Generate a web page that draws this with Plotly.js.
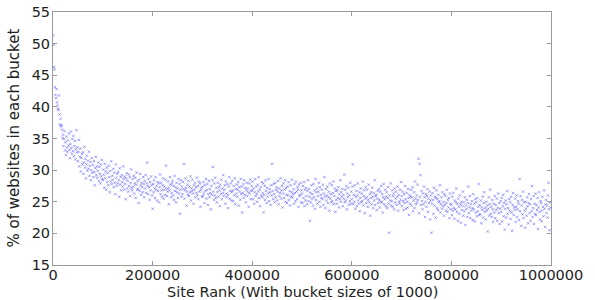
<!DOCTYPE html>
<html>
<head>
<meta charset="utf-8">
<script src="https://cdn.plot.ly/plotly-3.0.1.min.js"></script>
<style>html,body{margin:0;padding:0;background:#fff;}#chart{width:595px;height:300px;}</style>
</head>
<body>
<div id="chart"></div>
<script>
// Percentage of websites in each bucket of 1000 ranks (bucket 0 = ranks 0-999, ...)
const bucketSize = 1000;
const pct000 = [51.3,49.8,46.3,45.9,43.1,41.9,41.4,42.8,40.7,40.2,
39.7,39.5,41.8,38.8,37.2,38.1,36.9,37.1,36.4,35.1,
35.6,33.8,34.9,36.2,33.1,34.4,32.4,35.3,33.6,32.9,
34.7,33.9,35.8,33.2,31.9,34.1,36.1,33.5,32.6,34.9,
33.0,35.4,32.2,33.8,34.6,31.7,33.3,36.3,32.8,33.6,
31.4,32.9,34.8,30.6,32.1,33.4,29.8,31.9,32.6,30.9,
32.8,29.4,31.2,33.7,30.4,31.8,28.7,30.9,32.3,29.9,
31.5,30.2,32.9,29.1,30.7,31.3,28.4,30.0,31.9,29.6,
30.8,28.9,31.4,29.7,27.6,30.3,32.1,29.2,30.6,28.8,
29.9,31.2,28.3,30.5,29.4,27.9,30.9,29.0,31.6,28.6];
const pct100 = [28.4,30.1,29.3,27.2,31.0,28.7,29.8,26.9,30.4,28.1,
29.5,27.6,30.7,28.9,26.5,29.9,28.2,31.4,27.8,29.1,
28.5,30.2,27.3,29.6,28.0,26.2,30.9,28.8,27.5,29.4,
27.9,29.7,28.4,25.8,30.3,27.7,28.9,26.8,29.2,28.1,
27.4,30.6,28.6,26.9,29.0,27.8,25.4,28.7,29.5,27.1,
28.3,26.6,29.3,27.5,28.9,25.9,28.0,30.1,27.2,26.8,
28.6,27.4,29.1,26.3,27.9,28.8,25.6,27.7,29.6,26.9,
28.2,27.0,24.8,28.5,26.7,29.4,27.6,26.1,28.0,27.3,
26.5,28.9,27.8,25.7,28.3,27.1,29.2,26.4,27.9,31.2,
27.5,26.2,28.6,27.3,25.3,28.1,26.8,29.0,27.6,26.0];
const pct200 = [23.9,27.8,26.5,28.4,27.1,25.6,28.9,26.9,27.5,25.2,
28.1,26.7,27.9,24.9,27.3,29.3,26.2,28.0,26.8,25.8,
27.6,28.7,25.5,26.9,27.4,26.1,28.5,30.7,27.0,25.9,
26.6,28.2,27.2,24.6,26.8,28.9,27.7,25.7,26.4,27.9,
28.3,26.0,27.5,25.3,29.1,26.7,27.3,24.9,28.0,26.5,
27.1,25.6,28.6,26.3,27.8,23.1,26.9,28.4,25.8,27.4,
26.2,28.1,27.0,31.0,25.5,26.8,28.7,27.2,24.4,26.6,
27.7,26.1,28.3,25.9,27.4,26.5,29.0,25.2,27.1,26.7,
28.5,26.3,24.7,27.6,26.9,28.0,25.7,27.3,26.4,28.8,
26.0,27.5,25.4,28.2,26.6,27.9,24.2,26.8,27.2,25.8];
const pct300 = [27.4,25.9,28.1,26.3,24.8,27.6,26.7,28.6,25.5,26.9,
27.8,24.5,26.2,28.3,25.7,27.0,26.4,23.8,27.5,26.1,
28.4,30.5,26.6,25.3,27.9,26.0,28.8,25.6,27.2,24.9,
26.5,28.0,25.8,27.3,26.8,24.3,27.7,26.2,28.5,25.4,
27.1,26.4,29.2,25.9,26.9,27.6,24.7,28.2,26.3,25.7,
27.8,26.1,24.0,27.4,28.9,25.5,26.7,27.9,25.2,26.5,
28.3,26.8,25.1,27.5,26.0,28.7,24.6,27.0,26.3,27.7,
25.8,26.9,28.1,24.4,27.3,26.6,25.3,28.6,26.2,27.4,
23.3,26.4,27.8,25.6,28.4,26.1,27.2,24.9,26.8,28.0,
25.9,27.1,26.5,24.2,27.9,26.3,28.5,25.4,26.7,27.5];
const pct400 = [26.8,28.2,25.4,27.1,24.7,26.5,28.6,25.9,27.4,26.2,
25.0,27.7,26.6,28.9,25.6,26.9,24.3,27.3,26.0,28.1,
25.7,26.4,27.9,23.3,26.1,27.5,25.3,28.4,26.7,24.8,
27.2,25.8,26.3,28.6,25.1,27.0,26.5,24.5,27.6,26.0,
31.0,26.7,25.4,27.8,26.2,24.9,28.0,25.7,26.9,27.3,
25.2,26.6,28.3,24.6,27.1,25.9,26.4,28.7,25.5,26.8,
27.5,24.1,26.3,27.9,25.6,26.9,28.4,25.0,27.2,26.1,
24.8,27.4,26.0,28.1,25.3,26.7,24.4,27.6,25.8,26.5,
28.5,25.7,26.2,27.0,24.7,27.8,26.4,25.1,28.2,26.6,
25.4,27.3,26.9,24.2,27.7,25.9,26.1,28.0,24.9,26.8];
const pct500 = [26.3,24.8,27.5,25.6,28.1,24.3,26.9,25.2,27.2,25.9,
24.6,26.7,28.4,25.1,27.0,25.8,22.0,26.4,24.9,27.6,
25.5,26.2,24.4,27.8,25.7,26.8,23.9,28.6,25.3,26.5,
27.1,24.7,25.9,26.6,28.0,25.0,27.3,24.2,26.1,25.6,
26.9,25.4,27.7,24.5,26.3,28.9,25.8,24.0,27.0,25.2,
26.0,27.4,24.8,25.7,26.6,23.6,27.9,25.5,26.2,24.9,
27.6,25.1,26.4,28.2,24.6,25.9,27.1,23.4,26.7,25.3,
24.7,26.8,25.6,27.3,24.1,26.2,25.4,28.4,25.0,26.5,
25.8,27.0,24.3,26.1,25.5,29.3,24.9,26.9,25.2,27.5,
23.8,26.3,25.7,27.2,24.5,26.0,25.1,28.0,24.7,26.6];
const pct600 = [25.4,27.4,30.9,24.6,26.1,25.0,27.6,23.9,25.8,26.7,
24.3,26.0,27.9,25.2,24.7,26.5,23.5,25.6,27.1,24.9,
26.3,25.1,28.2,24.4,25.9,26.8,23.2,25.5,27.3,24.8,
25.7,26.9,24.2,25.3,27.7,24.9,26.2,22.8,25.6,26.5,
24.6,27.2,25.8,24.0,26.4,25.2,28.4,24.5,25.9,26.1,
23.7,25.5,26.7,24.8,27.0,25.3,24.1,26.6,25.0,27.5,
24.9,26.2,23.3,25.7,27.8,24.6,25.4,26.9,24.3,25.8,
26.5,24.0,25.6,27.3,24.7,20.1,26.0,25.2,27.9,24.4,
25.1,26.8,24.2,25.9,26.3,23.8,27.1,24.9,25.5,26.6,
24.5,25.8,27.4,23.6,26.1,25.0,24.7,26.9,25.3,28.1];
const pct700 = [25.9,24.3,26.6,25.1,23.7,26.2,24.8,27.5,25.4,23.9,
26.4,25.0,24.1,27.0,25.6,22.9,26.1,24.7,25.8,26.9,
24.4,25.7,27.3,23.5,25.2,26.5,24.0,28.2,25.5,24.6,
26.0,24.9,27.7,25.3,31.8,23.2,31.0,25.8,29.2,24.5,
26.7,25.1,23.8,26.3,24.6,27.4,25.7,22.6,25.0,26.2,
24.2,25.9,27.0,23.4,25.5,24.8,26.6,22.2,25.2,26.0,
20.1,24.7,26.4,25.3,23.1,27.2,24.4,25.8,22.5,25.6,
26.8,24.0,25.4,23.7,26.1,24.9,25.1,27.6,23.3,24.6,
25.7,23.9,26.5,24.3,25.0,22.8,26.2,24.5,25.9,23.6,
24.8,26.9,23.4,25.3,24.1,25.6,22.4,26.3,24.7,23.8];
const pct800 = [24.5,22.9,25.8,23.6,26.4,24.0,22.3,25.2,23.8,24.9,
27.1,23.4,24.7,22.0,25.5,24.2,23.1,26.0,24.6,21.7,
25.0,23.7,24.3,26.6,22.8,24.9,23.5,25.7,21.3,24.4,
23.9,25.3,22.6,24.8,27.4,23.2,24.1,25.9,22.4,24.6,
23.6,25.1,24.0,22.1,26.2,23.8,24.7,21.9,25.4,23.3,
24.9,22.7,25.6,23.5,24.2,27.8,22.9,24.5,23.0,25.2,
21.6,24.1,23.7,25.8,22.5,24.8,26.5,23.4,24.0,22.2,
25.0,23.6,24.4,20.3,23.9,25.7,22.8,24.6,26.9,23.1,
24.2,22.6,25.3,23.8,21.8,24.7,23.3,25.9,22.4,24.5,
23.7,25.5,22.0,24.0,26.3,23.2,24.8,21.5,23.9,25.1];
const pct900 = [23.4,25.6,21.9,24.3,26.1,22.7,24.8,20.6,23.9,25.2,
22.5,24.6,26.7,23.1,24.0,21.4,25.4,23.6,24.9,22.3,
25.8,23.3,20.4,24.5,26.4,22.9,24.1,23.7,25.5,21.8,
24.2,26.0,22.6,23.8,25.1,24.7,22.1,28.6,23.5,25.9,
21.2,24.4,25.3,23.0,26.6,22.4,24.9,23.6,20.9,25.0,
23.9,22.8,25.7,24.3,21.6,24.8,26.2,23.2,24.6,22.0,
25.4,23.5,27.5,22.6,24.0,25.9,21.5,24.7,23.1,26.3,
22.9,24.5,23.7,25.6,20.7,24.1,26.5,23.4,22.2,25.1,
24.8,21.9,23.6,25.8,24.2,22.7,26.8,23.9,21.0,24.6,
25.3,23.2,24.4,22.5,26.0,28.0,23.8,20.5,24.9,24.1];

const xTickVals = [0, 200000, 400000, 600000, 800000, 1000000];
const xTickText = ['0', '200000', '400000', '600000', '800000', '1000000'];
const yTickVals = [15, 20, 25, 30, 35, 40, 45, 50, 55];
const xTitle = 'Site Rank (With bucket sizes of 1000)';
const yTitle = '% of websites in each bucket';

const yValues = [].concat(pct000, pct100, pct200, pct300, pct400,
  pct500, pct600, pct700, pct800, pct900);

const trace = {
  type: 'scatter',
  mode: 'markers',
  x0: 0,
  dx: bucketSize,
  y: yValues,
  marker: {symbol: 'x-thin-open', size: 2.5, color: 'rgba(40,40,255,0.45)', line: {width: 0.9, color: 'rgba(40,40,255,0.45)'}},
  hoverinfo: 'skip'
};

const fam = 'DejaVu Sans, sans-serif';
const axisCommon = {
  showline: true, linecolor: '#9a9a9a', linewidth: 1, mirror: 'ticks',
  ticks: 'inside', ticklen: 4, tickcolor: '#9a9a9a', tickwidth: 1,
  showgrid: false, zeroline: false, tickfont: {family: fam, size: 14.5, color: '#222'}
};

const layout = {
  width: 595, height: 300,
  margin: {l: 53, r: 44, t: 12, b: 35, pad: 0},
  paper_bgcolor: '#fff', plot_bgcolor: '#fff',
  font: {family: fam, size: 14, color: '#222'},
  showlegend: false,
  xaxis: Object.assign({}, axisCommon, {
    range: [0, 1000000], tickmode: 'array', tickvals: xTickVals, ticktext: xTickText,
    ticklabelstandoff: -3
  }),
  yaxis: Object.assign({}, axisCommon, {
    range: [15, 55], tickmode: 'array', tickvals: yTickVals,
    ticklabelstandoff: -1
  }),
  annotations: [
    {text: xTitle, xref: 'paper', yref: 'paper', x: 0.5, y: -0.107, xanchor: 'center', yanchor: 'middle',
     showarrow: false, font: {family: fam, size: 14.5, color: '#222'}},
    {text: yTitle, xref: 'paper', yref: 'paper', x: -0.0803, y: 0.5, xanchor: 'center', yanchor: 'middle',
     textangle: -90, showarrow: false, font: {family: fam, size: 15, color: '#222'}}
  ]
};

Plotly.newPlot('chart', [trace], layout, {staticPlot: true, displayModeBar: false});
</script>
</body>
</html>
